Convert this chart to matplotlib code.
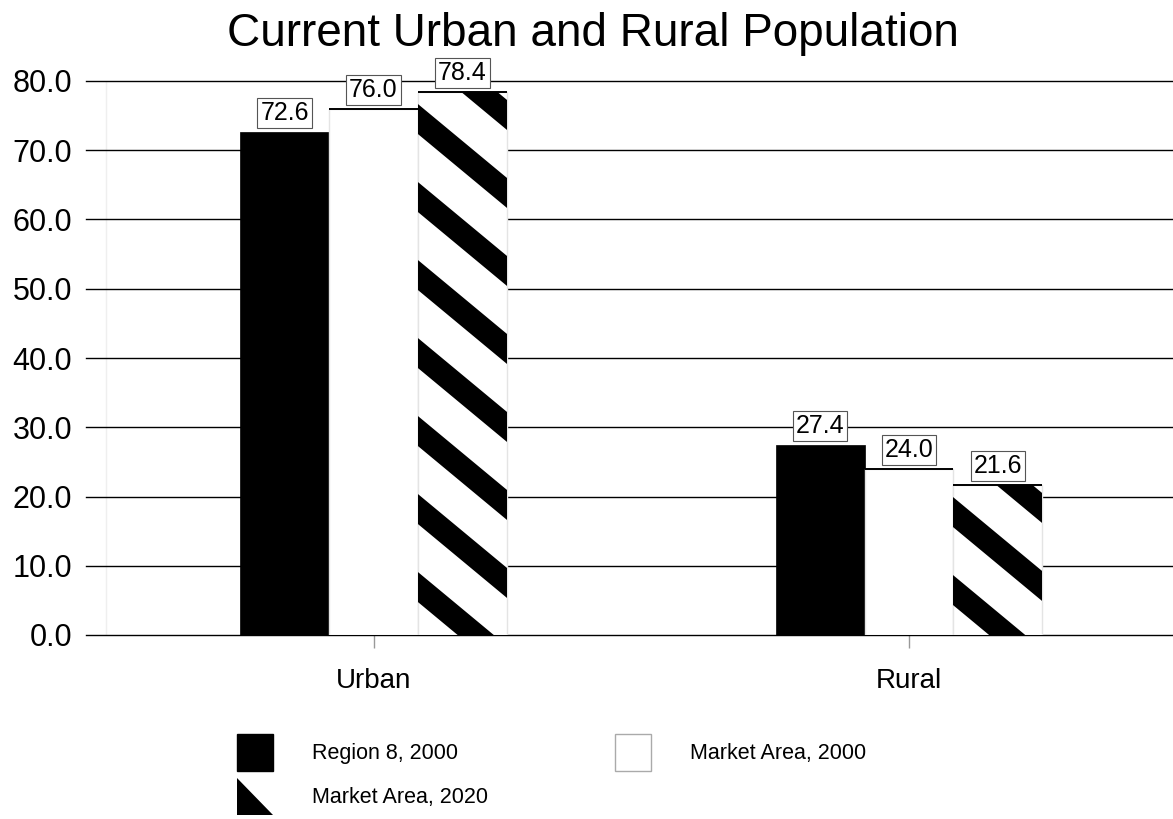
import matplotlib
matplotlib.use('Agg')
import matplotlib.pyplot as plt
import matplotlib.transforms as mtransforms
from matplotlib.patches import Polygon, Patch, Rectangle
from matplotlib.legend_handler import HandlerBase
import numpy as np

plt.rcParams['font.family'] = ['Liberation Sans', 'DejaVu Sans']

# data
categories = ['Urban', 'Rural']
series_names = ['Region 8, 2000', 'Market Area, 2000', 'Market Area, 2020']
region_2000 = [72.6, 27.4]
market_2000 = [76.0, 24.0]
market_2020 = [78.4, 21.6]
y_ticks = [0, 10, 20, 30, 40, 50, 60, 70, 80]

W, H, DPI = 1173, 819, 100
fig = plt.figure(figsize=(W / DPI, H / DPI), dpi=DPI)
ax = fig.add_axes([86 / W, 1 - 635 / H, 1 - 86 / W, (635 - 81) / H])

x = np.arange(len(categories))
bw = 0.166
ax.set_xlim(-0.537, 1.493)
ax.set_ylim(0, 80)

# grid lines behind the bars
ax.set_yticks(y_ticks, labels=['%.1f' % t for t in y_ticks])
ax.yaxis.grid(True, color='black', linewidth=1.0)
for gl in ax.get_ygridlines():
    gl.set_clip_on(False)
ax.set_axisbelow(True)
ax.axvline(-0.5, color='#efefef', linewidth=1, zorder=0)

for s in ax.spines.values():
    s.set_visible(False)

b1 = ax.bar(x - bw, region_2000, bw, color='black', edgecolor='black', linewidth=0.5, zorder=2)
b2 = ax.bar(x, market_2000, bw, color='white', edgecolor='#e4e4e4', linewidth=1, zorder=2)
b3 = ax.bar(x + bw, market_2020, bw, color='white', edgecolor='#e4e4e4', linewidth=1, zorder=2)

# black top edges of the white bars
for bars in (b2, b3):
    for r in bars:
        ax.hlines(r.get_height(), r.get_x(), r.get_x() + r.get_width(),
                  color='black', linewidth=1.4, zorder=3)

# thick diagonal stripes on the 2020 bars (drawn in pixels, clipped to the bar)
period, thick, slope = 78, 30, 0.83
for r in b3:
    (x0, y0), (x1, y1) = ax.transData.transform(
        [(r.get_x(), 0), (r.get_x() + r.get_width(), r.get_height())])
    xa, xb = x0 - 5, x1 + 5
    k = -2
    while True:
        yl = y1 - 12 - k * period
        if yl + slope * (x0 - xa) < y0 - 10:
            break
        pts = [(xa, yl + slope * (x0 - xa)), (xb, yl - slope * (xb - x0)),
               (xb, yl - slope * (xb - x0) - thick), (xa, yl + slope * (x0 - xa) - thick)]
        p = Polygon(pts, closed=True, facecolor='black', edgecolor='none',
                    transform=mtransforms.IdentityTransform(), zorder=2.5)
        ax.add_patch(p)
        p.set_clip_path(r)
        k += 1

# value labels
for bars, vals in ((b1, region_2000), (b2, market_2000), (b3, market_2020)):
    for r, v in zip(bars, vals):
        ax.annotate('%.1f' % v, (r.get_x() + r.get_width() / 2, v),
                    xytext=(0, 5), textcoords='offset points',
                    ha='center', va='bottom', fontsize=18, zorder=5,
                    bbox=dict(boxstyle='square,pad=0.12', fc='white', ec='#555555', lw=0.8))

ax.set_xticks(x, labels=categories)
ax.tick_params(axis='x', length=9, width=1, color='#999999', pad=15, labelsize=20)
ax.tick_params(axis='y', length=0, pad=10, labelsize=22)

fig.text(593 / W, 1 - 34 / H, 'Current Urban and Rural Population',
         ha='center', va='center', fontsize=33)


class BoxHandler(HandlerBase):
    def __init__(self, face, edge):
        super().__init__()
        self.face, self.edge = face, edge

    def create_artists(self, legend, orig_handle, xdescent, ydescent,
                       width, height, fontsize, trans):
        return [Rectangle((-xdescent, -ydescent), width, height,
                          facecolor=self.face, edgecolor=self.edge, lw=1, transform=trans)]


class TriangleHandler(HandlerBase):
    def create_artists(self, legend, orig_handle, xdescent, ydescent,
                       width, height, fontsize, trans):
        tri = Polygon([(-xdescent, -ydescent + height), (-xdescent, -ydescent),
                       (-xdescent + width, -ydescent)], closed=True,
                      facecolor='black', edgecolor='none', transform=trans)
        return [tri]


h_black = Patch(facecolor='black')
h_white = Patch(facecolor='white')
h_tri = Patch(facecolor='black')
fig.legend([h_black, h_tri, h_white],
           [series_names[0], series_names[2], series_names[1]],
           handler_map={h_black: BoxHandler('black', 'black'),
                        h_white: BoxHandler('white', '#aaaaaa'),
                        h_tri: TriangleHandler()},
           ncol=2, loc='upper left', bbox_to_anchor=(237 / W, 1 - 734 / H),
           frameon=False, fontsize=15.5, borderpad=0, borderaxespad=0,
           handlelength=1.68, handleheight=2.3, handletextpad=1.8,
           labelspacing=0.3, columnspacing=5.9)

plt.savefig('out.png', dpi=DPI)
